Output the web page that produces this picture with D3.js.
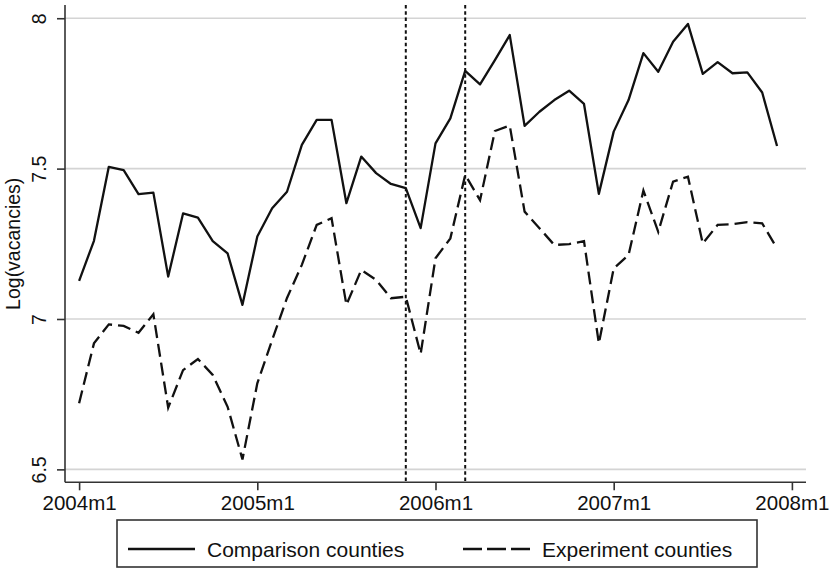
<!DOCTYPE html>
<html>
<head>
<meta charset="utf-8">
<script src="https://cdn.jsdelivr.net/npm/d3@7"></script>
<style>
  body { margin: 0; background: #fff; }
  text { font-family: "Liberation Sans", Arial, sans-serif; fill: #111; }
</style>
</head>
<body>
<svg width="831" height="572"></svg>
<script>
"use strict"

// monthly observations, 2004m1 .. 2007m12
let months = d3.range(48)

let comparison = [
  7.127, 7.26, 7.506, 7.495, 7.415, 7.42, 7.141, 7.351, 7.337, 7.259, 7.218, 7.047,
  7.274, 7.368, 7.423, 7.579, 7.662, 7.662, 7.385, 7.54, 7.485, 7.449, 7.435, 7.302,
  7.584, 7.667, 7.825, 7.78, 7.861, 7.944, 7.642, 7.689, 7.728, 7.759, 7.715, 7.416,
  7.623, 7.728, 7.884, 7.822, 7.922, 7.981, 7.815, 7.854, 7.817, 7.82, 7.753, 7.575
]

let experiment = [
  6.72, 6.919, 6.982, 6.977, 6.954, 7.016, 6.705, 6.83, 6.867, 6.814, 6.708, 6.533,
  6.786, 6.93, 7.07, 7.18, 7.313, 7.335, 7.047, 7.163, 7.13, 7.069, 7.074, 6.884,
  7.202, 7.268, 7.479, 7.395, 7.625, 7.643, 7.357, 7.302, 7.246, 7.249, 7.259, 6.919,
  7.168, 7.213, 7.427, 7.29, 7.457, 7.473, 7.251, 7.313, 7.315, 7.322, 7.318, 7.235
]

let xTicks = [0, 12, 24, 36, 48]
let xTickLabels = ["2004m1", "2005m1", "2006m1", "2007m1", "2008m1"]
let yTicks = [6.5, 7, 7.5, 8]
let eventMonths = [22, 26]   // 2005m11, 2006m3

let seriesNames = ["Comparison counties", "Experiment counties"]

let svg = d3.select("svg")

let x = d3.scaleLinear().domain([-0.95, 48.95]).range([65, 806])
let y = d3.scaleLinear().domain([6.457, 8.044]).range([482.3, 5])

// gridlines
svg.append("g")
  .selectAll("line")
  .data(yTicks)
  .enter().append("line")
    .attr("x1", x.range()[0]).attr("x2", x.range()[1])
    .attr("y1", d => y(d)).attr("y2", d => y(d))
    .attr("stroke", "#d4d4d4")
    .attr("stroke-width", 1.6)

// axes
let yAxis = svg.append("g")
  .attr("transform", "translate(65,0)")
  .call(d3.axisLeft(y).tickValues(yTicks).tickSize(8).tickFormat(d3.format("")))
yAxis.select(".domain").attr("stroke", "#333").attr("stroke-width", 1.6)
  .attr("d", "M0," + y.range()[0] + "V" + y.range()[1])
yAxis.selectAll(".tick line").attr("stroke", "#333").attr("stroke-width", 1.6)
yAxis.selectAll(".tick text")
  .attr("x", null).attr("dy", null)
  .attr("transform", "translate(-19.5,0) rotate(-90)")
  .attr("text-anchor", "middle")
  .style("font-size", "19.5px")

let xAxis = svg.append("g")
  .attr("transform", "translate(0," + y.range()[0] + ")")
  .call(d3.axisBottom(x).tickValues(xTicks).tickSize(8)
    .tickFormat((d, i) => xTickLabels[i]))
xAxis.select(".domain").attr("stroke", "#333").attr("stroke-width", 1.6)
  .attr("d", "M" + x.range()[0] + ",0H" + x.range()[1])
xAxis.selectAll(".tick line").attr("stroke", "#333").attr("stroke-width", 1.6)
xAxis.selectAll(".tick text")
  .attr("y", 28).attr("dy", null)
  .style("font-size", "20.5px")

svg.selectAll(".tick text").attr("fill", "#111").attr("font-family", null)

// y axis title
svg.append("text")
  .attr("transform", "translate(20," + y(7.25) + ") rotate(-90)")
  .attr("text-anchor", "middle")
  .style("font-size", "19.5px")
  .text("Log(vacancies)")

// vertical event lines
svg.append("g")
  .selectAll("line")
  .data(eventMonths)
  .enter().append("line")
    .attr("x1", d => x(d)).attr("x2", d => x(d))
    .attr("y1", y.range()[1]).attr("y2", y.range()[0])
    .attr("stroke", "#111")
    .attr("stroke-width", 2)
    .attr("stroke-dasharray", "3.5,2.8")

let line = d3.line()
  .x((d, i) => x(months[i]))
  .y(d => y(d))

svg.append("path")
  .datum(comparison)
  .attr("d", line)
  .attr("fill", "none")
  .attr("stroke", "#111")
  .attr("stroke-width", 2.3)
  .attr("stroke-linejoin", "round")

svg.append("path")
  .datum(experiment)
  .attr("d", line)
  .attr("fill", "none")
  .attr("stroke", "#111")
  .attr("stroke-width", 2.3)
  .attr("stroke-dasharray", "13,6")

// legend
let legend = svg.append("g")
legend.append("rect")
  .attr("x", 117).attr("y", 520)
  .attr("width", 640).attr("height", 47)
  .attr("fill", "#fff")
  .attr("stroke", "#333")
  .attr("stroke-width", 1.6)

let legendItems = [
  {name: seriesNames[0], x0: 128, dash: null},
  {name: seriesNames[1], x0: 463, dash: "19,5"}
]
legendItems.forEach(item => {
  legend.append("line")
    .attr("x1", item.x0).attr("x2", item.x0 + 67)
    .attr("y1", 549).attr("y2", 549)
    .attr("stroke", "#111")
    .attr("stroke-width", 2.3)
    .attr("stroke-dasharray", item.dash)
  legend.append("text")
    .attr("x", item.x0 + 79)
    .attr("y", 557)
    .style("font-size", "21px")
    .text(item.name)
})
</script>
</body>
</html>
